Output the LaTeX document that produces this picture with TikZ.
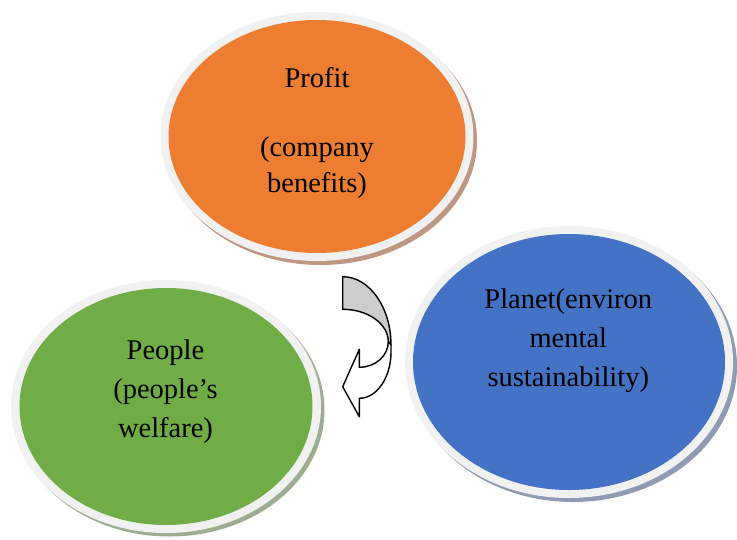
\documentclass[tikz,border=0pt]{standalone}
\usepackage{fontspec}
\setmainfont{Liberation Serif}
\usetikzlibrary{shapes.geometric}
\definecolor{orangeF}{HTML}{ED7D31}
\definecolor{blueF}{HTML}{4472C4}
\definecolor{greenF}{HTML}{70AD47}
\definecolor{ringC}{HTML}{F1F1F1}
\definecolor{shOr}{HTML}{BE9682}
\definecolor{shBl}{HTML}{8E9BB2}
\definecolor{shGr}{HTML}{9DAD90}
\definecolor{arrGray}{HTML}{CDCDCD}
\begin{document}
\begin{tikzpicture}[x=1pt,y=-1pt,
  blob/.style={ellipse, inner sep=0pt, draw=none},
  lbl/.style={anchor=base, font=\fontsize{28.5}{34}\selectfont, inner sep=0pt, text=black},
  arrowshape/.style={draw=black, line width=1.4pt, line join=round}]
\useasboundingbox (0,0) rectangle (737,539);
\fill[white] (0,0) rectangle (737,539);

% Profit
\node[blob, fill=shOr, minimum width=313pt, minimum height=249pt] (profitShadow) at (320.5,140.5) {};
\node[blob, fill=ringC, minimum width=313pt, minimum height=249pt] (profitRing) at (317,136.5) {};
\node[blob, fill=orangeF, minimum width=297pt, minimum height=233pt] (profit) at (317,136.5) {};
\node[lbl] (profitT1) at (317,87.3) {Profit};
\node[lbl] (profitT2) at (317,156.7) {(company};
\node[lbl] (profitT3) at (317,192.3) {benefits)};

% Planet
\node[blob, fill=shBl, minimum width=328pt, minimum height=272pt] (planetShadow) at (573,366) {};
\node[blob, fill=ringC, minimum width=328pt, minimum height=272pt] (planetRing) at (569,362) {};
\node[blob, fill=blueF, minimum width=312pt, minimum height=256pt] (planet) at (569,362) {};
\node[lbl] (planetT1) at (568.3,308.3) {Planet(environ};
\node[lbl] (planetT2) at (568.3,347.3) {mental};
\node[lbl] (planetT3) at (568.3,386.7) {sustainability)};

% People
\node[blob, fill=shGr, minimum width=310pt, minimum height=253pt] (peopleShadow) at (169.5,410) {};
\node[blob, fill=ringC, minimum width=310pt, minimum height=253pt] (peopleRing) at (166,406.5) {};
\node[blob, fill=greenF, minimum width=293pt, minimum height=237pt] (people) at (166,406.5) {};
\node[lbl] (peopleT1) at (165.5,359.3) {People};
\node[lbl] (peopleT2) at (165.5,398.3) {(people’s};
\node[lbl] (peopleT3) at (165.5,437.3) {welfare)};

% curved arrow: back band (gray)
\path[arrowshape, fill=arrGray]
  (342.7,276.7) .. controls (369.4,276.7) and (391,307.3) .. (391,345)
  -- (388.3,341.7) .. controls (388.3,323.8) and (367.9,309.3) .. (342.7,309.3)
  -- cycle;
% curved arrow: front band with head (white)
\path[arrowshape, fill=white]
  (388.3,341.7) .. controls (388.3,355.8) and (375.3,367.3) .. (359.3,367.3)
  -- (359.3,349.3) -- (342.7,386.7) -- (359.3,416.7) -- (359.3,398.3)
  .. controls (376.8,398.3) and (391,377.6) .. (391,352)
  -- (391,345) -- cycle;
\end{tikzpicture}
\end{document}
